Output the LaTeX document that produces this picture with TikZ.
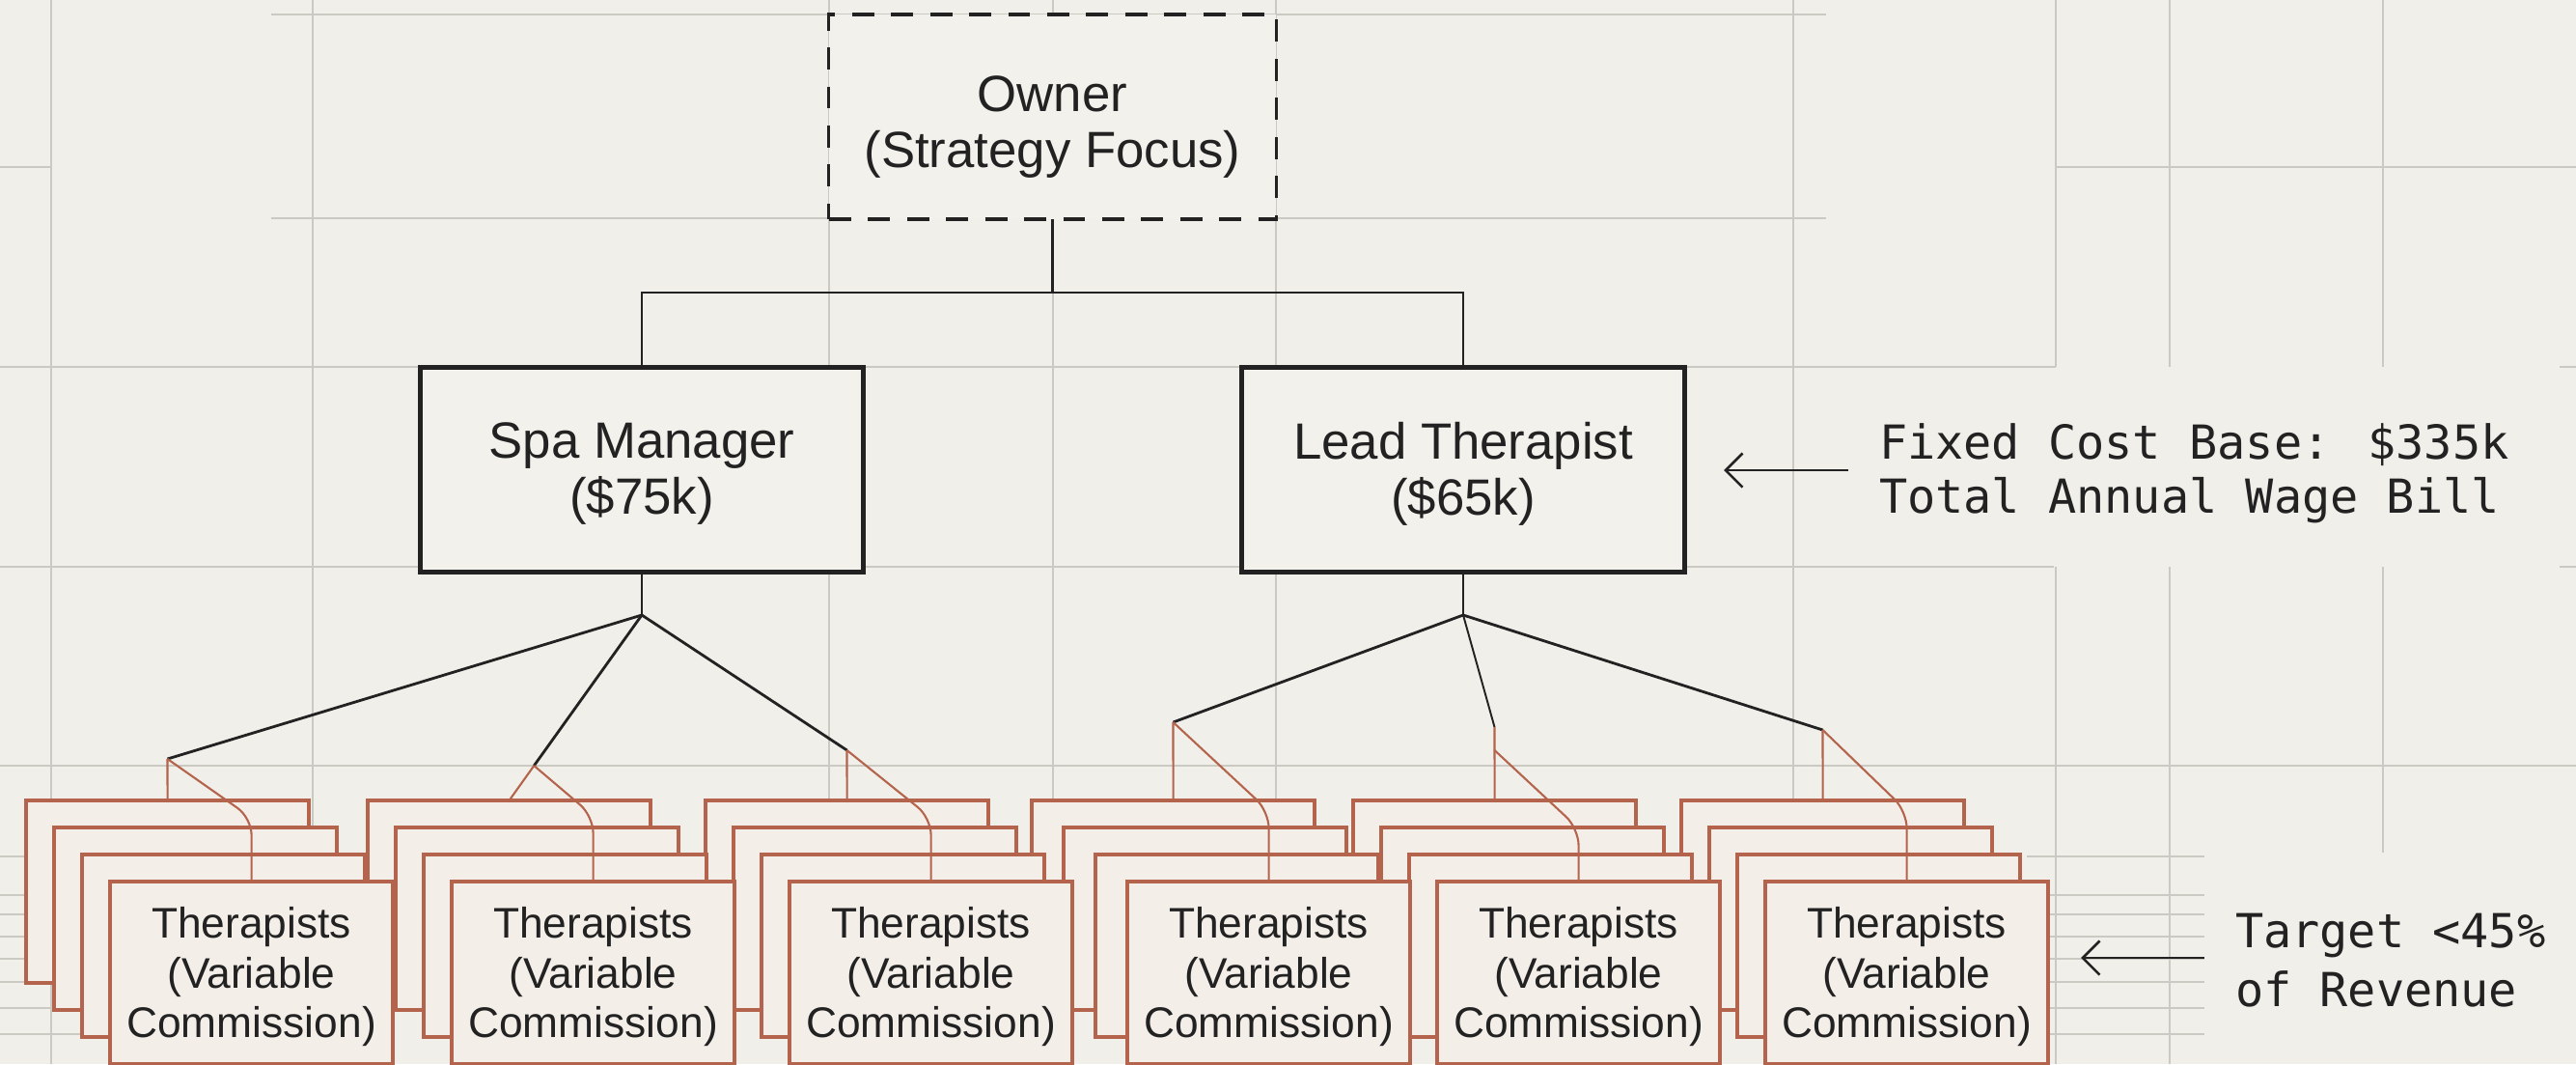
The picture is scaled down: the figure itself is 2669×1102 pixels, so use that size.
\documentclass[tikz,border=0pt]{standalone}
\usepackage{fontspec}
\setmainfont{Liberation Sans}
\newfontfamily\annfont{DejaVu Sans Mono}
\usetikzlibrary{arrows.meta}
\definecolor{bgc}{HTML}{F0EFE9}
\definecolor{gridc}{HTML}{CACAC3}
\definecolor{ink}{HTML}{222222}
\definecolor{rust}{HTML}{B4644C}
\definecolor{thfill}{HTML}{F4EEE9}
\definecolor{boxfill}{HTML}{F2F1EC}
\newcommand\therstack[3]{%
  \node[thbox] (#1a) at ({#2-3*#3},829) {};
  \node[thbox] (#1b) at ({#2-2*#3},857) {};
  \node[thbox] (#1c) at ({#2-#3},885) {};
  \node[thbox] (#1d) at (#2,913) {};
  \node[thtext] (#1t) at ([yshift=-0.04cm]#1d.center) {Therapists\\(Variable\\Commission)};
}
\begin{document}
\begin{tikzpicture}[x=0.01cm,y=-0.01cm,
  gridline/.style={draw=gridc,line width=0.45pt},
  ownerbox/.style={draw=ink,line width=0.9pt,dash pattern=on 6.5pt off 5pt,fill=boxfill,minimum width=4.63cm,minimum height=2.12cm,inner sep=0pt,outer sep=0pt},
  boxtext/.style={align=center,font=\fontsize{15}{16.5}\selectfont,text=ink,inner sep=0pt},
  mgrbox/.style={draw=ink,line width=1.4pt,fill=boxfill,minimum width=4.58cm,minimum height=2.11cm,inner sep=0pt,outer sep=0pt},
  thbox/.style={draw=rust,line width=1.1pt,fill=thfill,minimum width=2.93cm,minimum height=1.89cm,inner sep=0pt,outer sep=0pt,anchor=north west},
  thtext/.style={align=center,font=\fontsize{12.6}{14.6}\selectfont,text=ink,inner sep=0pt},
  tree/.style={draw=ink,line width=0.8pt},
  treethin/.style={draw=ink,line width=0.55pt},
  twig/.style={draw=rust,line width=0.6pt,rounded corners=5pt},
  annarrow/.style={draw=ink,line width=0.75pt,-{Straight Barb[length=5pt,width=10pt]}},
  anntext/.style={font=\annfont\fontsize{13.8}{16}\selectfont,text=ink,align=left,inner sep=0pt,outer sep=0pt,anchor=west}
]
% background
\fill[bgc] (0,0) rectangle (2669,1102);
\useasboundingbox (0,0) rectangle (2669,1102);
% grid
\foreach \gx in {53,324,859,1091,1322,1858}
  \draw[gridline] (\gx,0) -- (\gx,1102);
\draw[gridline] (2130,0) -- (2130,380) (2130,587) -- (2130,1102);
\draw[gridline] (2248,0) -- (2248,380) (2248,587) -- (2248,1102);
\draw[gridline] (2469,0) -- (2469,380) (2469,587) -- (2469,883);
\draw[gridline] (281,15) -- (1892,15) (281,226) -- (1892,226);
\draw[gridline] (0,173) -- (52,173) (2130,173) -- (2669,173);
\draw[gridline] (0,380) -- (2130,380) (2652,380) -- (2669,380);
\draw[gridline] (0,587) -- (2128,587) (2652,587) -- (2669,587);
\draw[gridline] (0,793) -- (2669,793);
\foreach \gy in {887,927,947,970,993,1017,1044,1071}{
  \draw[gridline] (0,\gy) -- (200,\gy);
  \draw[gridline] (2100,\gy) -- (2284,\gy);
}
% top nodes
\node[ownerbox] (owner) at (1090.5,121) {};
\node[boxtext] (ownertext) at ([yshift=-0.11cm]owner.center) {Owner\\(Strategy Focus)};
\node[mgrbox] (spa) at (665,486.5) {};
\node[boxtext] (spatext) at ([yshift=-0.04cm]spa.center) {Spa Manager\\(\$75k)};
\node[mgrbox] (lead) at (1516,486.5) {};
\node[boxtext] (leadtext) at ([yshift=-0.04cm]lead.center) {Lead Therapist\\(\$65k)};
% therapist stacks (right to left so left stacks lie on top)
\therstack{s6}{1829}{29}
\therstack{s5}{1489}{29}
\therstack{s4}{1168}{33}
\therstack{s3}{818}{29}
\therstack{s2}{468}{29}
\therstack{s1}{114}{29}
% owner connectors
\coordinate (busL) at (665,303);
\coordinate (busR) at (1516,303);
\draw[tree] (owner.south) -- (owner.south |- busL);
\draw[tree] (spa.north) -- (busL) -- (busR) -- (lead.north);
% hubs
\coordinate (hubS) at (665,637);
\coordinate (hubL) at (1516,637);
\draw[tree] (spa.south) -- (hubS);
\draw[tree] (lead.south) -- (hubL);
% spa manager fan
\coordinate (j1) at (173.5,786);
\coordinate (d2) at (553.3,793);
\coordinate (j3) at (877.5,777);
\draw[tree] (hubS) -- (j1);
\draw[tree] (hubS) -- (d2);
\draw[tree] (hubS) -- (j3);
\draw[twig] (j1) -- (s1a.north);
\draw[twig] (j1) -- (s1d.north |- 0,847) -- (s1d.north);
\draw[twig] (d2) -- (s2a.north);
\draw[twig] (d2) -- (s2d.north |- 0,845) -- (s2d.north);
\draw[twig] (j3) -- (s3a.north);
\draw[twig] (j3) -- (s3d.north |- 0,847) -- (s3d.north);
% lead therapist fan
\coordinate (j4) at (1215.5,748);
\coordinate (j5) at (1548.5,753);
\coordinate (d5) at (1548.5,777);
\coordinate (j6) at (1888.5,756);
\draw[tree] (hubL) -- (j4);
\draw[treethin] (hubL) -- (j5);
\draw[tree] (hubL) -- (j6);
\draw[twig] (j4) -- (s4a.north);
\draw[twig] (j4) -- (s4d.north |- 0,840) -- (s4d.north);
\draw[twig] (j5) -- (s5a.north);
\draw[twig] (d5) -- (s5d.north |- 0,858) -- (s5d.north);
\draw[twig] (j6) -- (s6a.north);
\draw[twig] (j6) -- (s6d.north |- 0,840) -- (s6d.north);
% annotations
\node[anntext] (fixed) at (1947,490) {Fixed Cost Base: \$335k\\Total Annual Wage Bill};
\coordinate (fa) at (1915,487);
\coordinate (fb) at (1786,487);
\draw[annarrow] (fa) -- (fb);
\node[anntext,font=\annfont\fontsize{13.8}{17.3}\selectfont] (target) at (2316,995) {Target <45\%\\of Revenue};
\coordinate (ta) at (2284,992);
\coordinate (tb) at (2156,992);
\draw[annarrow] (ta) -- (tb);
\end{tikzpicture}
\end{document}
